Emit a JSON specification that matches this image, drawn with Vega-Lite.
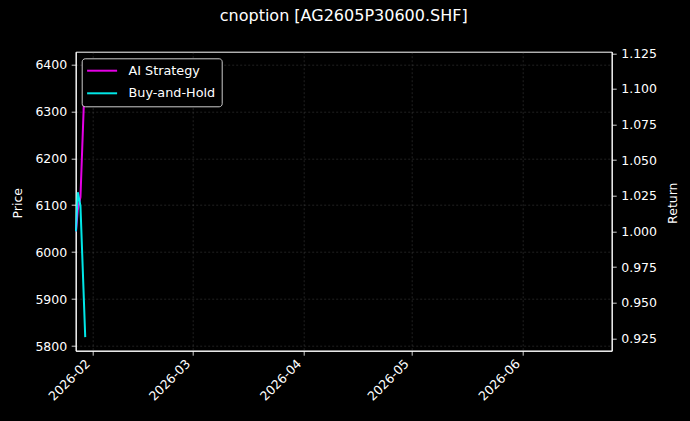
{
  "$schema": "https://vega.github.io/schema/vega-lite/v6.json",
  "width": 536,
  "height": 299,
  "autosize": {"type": "none"},
  "padding": {"left": 75.7, "top": 51.7, "right": 78.3, "bottom": 70.3},
  "background": "#000000",
  "title": {
    "text": "cnoption [AG2605P30600.SHF]",
    "color": "#ffffff",
    "font": "DejaVu Sans",
    "fontSize": 16,
    "fontWeight": "normal",
    "offset": 23
  },
  "datasets": {
    "price": [
      {"date": "2026-01-27T10:00:00", "price": 6105},
      {"date": "2026-01-27T22:00:00", "price": 6398},
      {"date": "2026-01-28T16:00:00", "price": 6250},
      {"date": "2026-01-30T00:00:00", "price": 5819}
    ],
    "returns": [
      {"date": "2026-01-27T10:00:00", "series": "AI Strategy", "value": 1.0},
      {"date": "2026-01-27T22:00:00", "series": "AI Strategy", "value": 1.015},
      {"date": "2026-01-28T16:00:00", "series": "AI Strategy", "value": 1.024},
      {"date": "2026-01-30T00:00:00", "series": "AI Strategy", "value": 1.1165},
      {"date": "2026-01-27T10:00:00", "series": "Buy-and-Hold", "value": 1.0},
      {"date": "2026-01-27T22:00:00", "series": "Buy-and-Hold", "value": 1.0275},
      {"date": "2026-01-28T16:00:00", "series": "Buy-and-Hold", "value": 1.018},
      {"date": "2026-01-30T00:00:00", "series": "Buy-and-Hold", "value": 0.9258}
    ]
  },
  "layer": [
    {
      "data": {"name": "price"},
      "mark": {"type": "line", "strokeOpacity": 0},
      "encoding": {
        "x": {
          "field": "date",
          "type": "temporal",
          "scale": {
            "domain": [
              {"year": 2026, "month": 1, "date": 27, "hours": 8, "minutes": 10},
              {"year": 2026, "month": 6, "date": 25, "hours": 22}
            ],
            "nice": false
          },
          "axis": {
            "title": null,
            "format": "%Y-%m",
            "tickCount": {"interval": "month", "step": 1},
            "labelAngle": -45,
            "labelAlign": "right",
            "labelBaseline": "bottom",
            "labelPadding": 11
          }
        },
        "y": {
          "field": "price",
          "type": "quantitative",
          "scale": {"domain": [5790, 6427], "nice": false, "zero": false},
          "axis": {
            "orient": "left",
            "title": "Price",
            "format": "d",
            "values": [5800, 5900, 6000, 6100, 6200, 6300, 6400],
            "titleX": -58.5,
            "titleY": 151,
            "titleAngle": 270,
            "titleAlign": "center",
            "titleBaseline": "middle"
          }
        }
      }
    },
    {
      "data": {"name": "returns"},
      "mark": {"type": "line", "strokeWidth": 2, "opacity": 0.9},
      "encoding": {
        "x": {"field": "date", "type": "temporal"},
        "y": {
          "field": "value",
          "type": "quantitative",
          "scale": {"domain": [0.9163, 1.1261], "nice": false, "zero": false},
          "axis": {
            "orient": "right",
            "title": "Return",
            "format": ".3f",
            "values": [0.925, 0.95, 0.975, 1.0, 1.025, 1.05, 1.075, 1.1, 1.125],
            "titleX": 61,
            "titleY": 151,
            "titleAngle": 270,
            "titleAlign": "center",
            "titleBaseline": "middle"
          }
        },
        "color": {
          "field": "series",
          "type": "nominal",
          "scale": {"domain": ["AI Strategy", "Buy-and-Hold"], "range": ["#ff00ff", "#00ffff"]},
          "legend": {
            "title": null,
            "orient": "none",
            "legendX": 6,
            "legendY": 6.6
          }
        }
      }
    }
  ],
  "resolve": {"scale": {"y": "independent"}},
  "config": {
    "font": "DejaVu Sans",
    "view": {"stroke": "#ffffff", "strokeWidth": 1},
    "axis": {
      "labelColor": "#ffffff",
      "labelFont": "DejaVu Sans",
      "labelFontSize": 12.5,
      "titleColor": "#ffffff",
      "titleFont": "DejaVu Sans",
      "titleFontSize": 12.5,
      "titleFontWeight": "normal",
      "domainColor": "#ffffff",
      "tickColor": "#ffffff",
      "tickSize": 4.5,
      "tickWidth": 0.8,
      "labelPadding": 4.5,
      "grid": true,
      "gridColor": "#808080",
      "gridOpacity": 0.5,
      "gridDash": [2, 2],
      "gridWidth": 0.5
    },
    "legend": {
      "fillColor": "#000000",
      "strokeColor": "#cccccc",
      "cornerRadius": 3,
      "padding": 6,
      "symbolType": "M-3,0H3",
      "symbolSize": 100,
      "symbolStrokeWidth": 2,
      "symbolOffset": 8,
      "labelColor": "#ffffff",
      "labelFont": "DejaVu Sans",
      "labelFontSize": 12.8,
      "labelOffset": 20,
      "rowPadding": 8.6
    }
  }
}
